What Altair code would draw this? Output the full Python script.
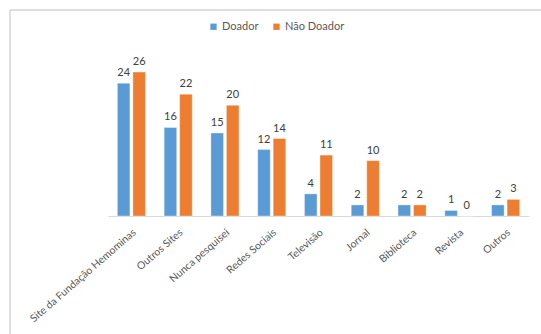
import altair as alt
import pandas as pd

categorias = ["Site da Fundação Hemominas", "Outros Sites", "Nunca pesquisei",
              "Redes Sociais", "Televisão", "Jornal", "Biblioteca", "Revista", "Outros"]
doador = [24, 16, 15, 12, 4, 2, 2, 1, 2]
nao_doador = [26, 22, 20, 14, 11, 10, 2, 0, 3]
grupos = ["Doador", "Não Doador"]
cores = ["#5B9BD5", "#ED7D31"]

rows = []
for c, d, n in zip(categorias, doador, nao_doador):
    rows.append({"categoria": c, "grupo": grupos[0], "valor": d})
    rows.append({"categoria": c, "grupo": grupos[1], "valor": n})
df = pd.DataFrame(rows)

FONT = "Lato"
W, H = 421, 155

x = alt.X("categoria:N", sort=categorias,
          scale=alt.Scale(paddingInner=0.40, paddingOuter=0.20),
          axis=alt.Axis(title=None, labelAngle=-41, labelFontSize=10.5,
                        labelColor="#595959", labelFont=FONT, ticks=False,
                        domainColor="#D9D9D9", labelPadding=11, labelLimit=300))
xo = alt.XOffset("grupo:N", sort=grupos, scale=alt.Scale(paddingInner=0.19))
y = alt.Y("valor:Q", scale=alt.Scale(domain=[0, 28], nice=False), axis=None)

bars = alt.Chart(df).mark_bar(stroke="#ffffff", strokeWidth=0.6, strokeOpacity=0.6).encode(
    x=x, xOffset=xo, y=y,
    color=alt.Color("grupo:N", sort=grupos,
                    scale=alt.Scale(domain=grupos, range=cores),
                    legend=alt.Legend(title=None, orient="none", direction="horizontal",
                                      legendX=100, legendY=-40, symbolType="square",
                                      symbolSize=40, symbolStrokeWidth=0,
                                      labelFontSize=11, labelColor="#595959",
                                      labelFont=FONT, columnPadding=12,
                                      labelOffset=3)),
)

labels = alt.Chart(df).mark_text(dy=-7, baseline="alphabetic", fontSize=11,
                                 color="#404040", font=FONT).encode(
    x=x, xOffset=xo, y=y, text="valor:Q")

frame = alt.Chart(pd.DataFrame({"k": [0]})).mark_rect(
    fill=None, stroke="#BFBFBF", strokeWidth=1).encode(
    x=alt.value(-98), x2=alt.value(W + 40),
    y=alt.value(-51), y2=alt.value(H + 150))

chart = alt.layer(frame, bars, labels).properties(
    width=W, height=H,
    autosize=alt.AutoSizeParams(type="none"),
    padding={"left": 108, "top": 61, "right": 12, "bottom": 118},
    background="white",
).configure_view(stroke=None)

chart.save("out.html", embed_options={"renderer": "svg", "actions": False})
